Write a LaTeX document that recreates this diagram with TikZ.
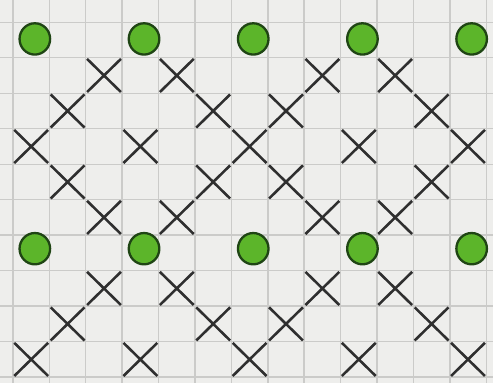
\documentclass[tikz,border=0pt]{standalone}
\usepackage{tikz}
\usetikzlibrary{shapes.misc,shapes.geometric}
\definecolor{paperc}{HTML}{EEEEEC}
\definecolor{gridc}{HTML}{CBCBC9}
\definecolor{peac}{HTML}{5CB52A}
\definecolor{rimc}{HTML}{1F4514}
\definecolor{inkc}{HTML}{2F2F2F}

\begin{document}
\begin{tikzpicture}[x=1cm, y=0.975cm,
    pea/.style={ellipse, draw=rimc, fill=peac, line width=1.8pt, inner sep=0pt,
                minimum width=0.84cm, minimum height=0.86cm},
    cross/.style={cross out, draw=inkc, line width=2pt, inner sep=0pt,
                  minimum width=0.86cm, minimum height=0.84cm}]
  \fill[paperc] (-0.857,1.127) rectangle (12.687,-9.66);
  \useasboundingbox (-0.857,1.127) rectangle (12.687,-9.66);
  % grid
  \foreach \c in {0,...,13}
     \draw[gridc, line width=1.1pt] (\c-0.5,1.127) -- (\c-0.5,-9.66);
  \foreach \r in {0,...,10}
     \draw[gridc, line width=1.1pt] (-0.857,0.5-\r) -- (12.687,0.5-\r);
  % peas
  \foreach \r/\dy in {0/0.03,6/0.12}
     \foreach \c in {0,3,6,9,12}
        \node[pea] (pea-\r-\c) at (\c+0.1,-\r+\dy) {};
  % crosses
  \foreach \r/\cs in {1/{2,4,8,10},2/{1,5,7,11},3/{0,3,6,9,12},4/{1,5,7,11},5/{2,4,8,10},
                      7/{2,4,8,10},8/{1,5,7,11},9/{0,3,6,9,12}}
     \foreach \c in \cs
        \node[cross] (x-\r-\c) at (\c,-\r) {};
\end{tikzpicture}
\end{document}
